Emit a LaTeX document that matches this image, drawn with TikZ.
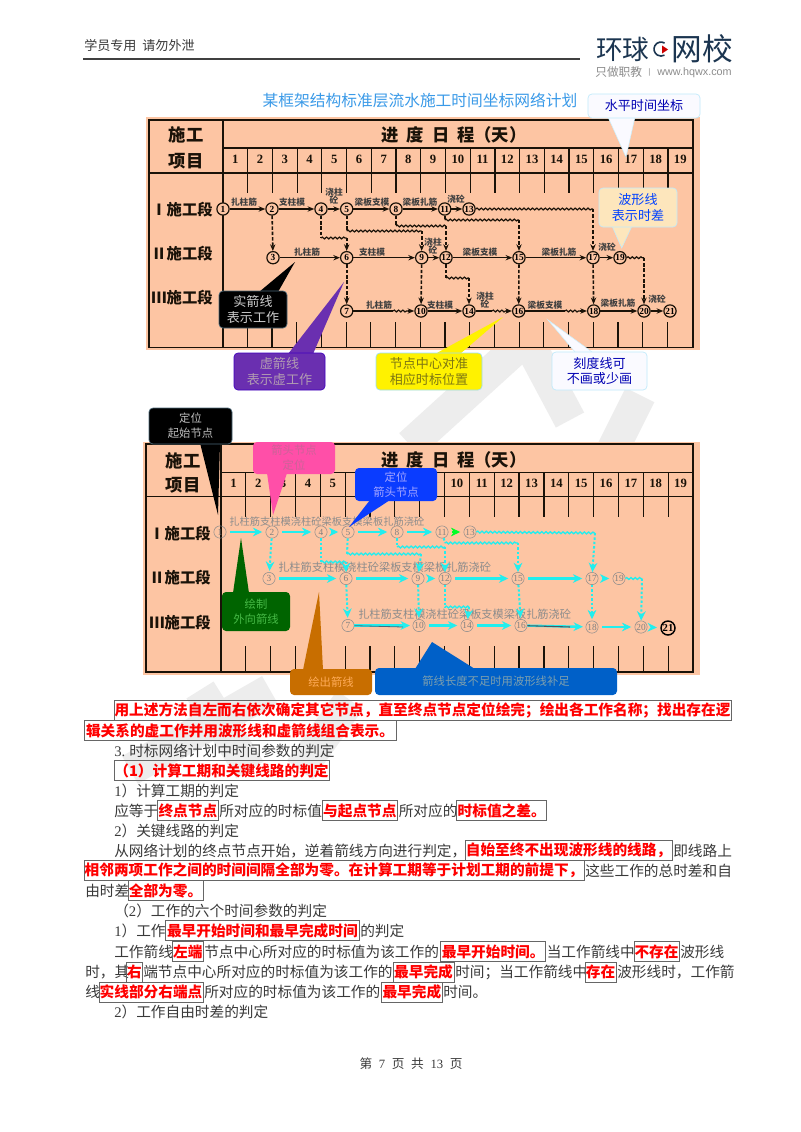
\documentclass[tikz,border=0pt]{standalone}
\usepackage{fontspec}
\setmainfont{Noto Sans CJK SC}
\newfontfamily\numf{Liberation Serif}
\newfontfamily\latf{Liberation Sans}
\usetikzlibrary{arrows.meta,decorations.pathmorphing}
\definecolor{peach}{HTML}{FDC5A3}
\definecolor{frameblk}{HTML}{1A1208}
\definecolor{cyanl}{HTML}{22EEEE}
\definecolor{bodyc}{HTML}{3A3A3A}
\definecolor{navy}{HTML}{1B3550}
\definecolor{titleb}{HTML}{3A9AE8}
\definecolor{purp}{HTML}{6A2FB0}
\definecolor{pinkc}{HTML}{FF4FA8}
\definecolor{bluec}{HTML}{0A3CFF}
\definecolor{greenc}{HTML}{006400}
\definecolor{orangec}{HTML}{C86E00}
\definecolor{longb}{HTML}{0060C8}
\definecolor{softy}{HTML}{FDE6BC}
\newcommand{\fs}[1]{\fontsize{#1}{#1}\selectfont}
\tikzset{
  bt/.style={inner sep=0pt,anchor=west,text=bodyc,font=\fs{11}},
  redbox/.style={inner sep=0pt,draw=black!60,line width=.6pt,text=red,font=\fs{11}\bfseries,minimum height=15pt},
  hd/.style={inner sep=0pt,font=\fs{13}\bfseries,text=frameblk},
  rowl/.style={inner sep=0pt,anchor=east,font=\fs{11.5}\bfseries,text=frameblk},
  coln/.style={inner sep=0pt,font=\numf\fs{9.5}\bfseries,text=frameblk},
  tl/.style={inner sep=0pt,font=\fs{6.5}\bfseries,text=black!75,align=center},
  na/.style={circle,draw=frameblk,line width=.9pt,fill=peach,inner sep=0pt,minimum size=9.2pt,font=\numf\fs{7}\bfseries},
  nb/.style={circle,draw=black!45,line width=.4pt,inner sep=0pt,minimum size=9.2pt,font=\numf\fs{7},text=black!50},
  frameln/.style={draw=frameblk,line width=1.2pt},
  thinln/.style={draw=frameblk,line width=.9pt},
  solidedge/.style={draw=frameblk,line width=1.1pt,-{Stealth[length=5pt,width=4pt]}},
  plainedge/.style={draw=frameblk,line width=1.1pt},
  dashedge/.style={draw=frameblk,line width=1.2pt,dash pattern=on 2.6pt off 1.4pt},
  dasharrow/.style={dashedge,-{Stealth[length=5pt,width=4pt]}},
  waveedge/.style={draw=frameblk,line width=.9pt,decorate,decoration={snake,amplitude=.7pt,segment length=3.2pt}},
  csolid/.style={draw=cyanl,line width=1.8pt,-{Stealth[length=7pt,width=6.5pt]}},
  cdash/.style={draw=cyanl,line width=1.5pt,dash pattern=on 1.8pt off 1.5pt},
  cdasharrow/.style={cdash,-{Stealth[length=7pt,width=6.5pt]}},
  cwave/.style={draw=cyanl,line width=1pt,decorate,decoration={snake,amplitude=.7pt,segment length=3.2pt}},
  cbox/.style={rounded corners=3pt,inner sep=0pt,align=center,font=\fontsize{9.8}{11.5}\selectfont,line width=.5pt},
  smalltxt/.style={font=\fontsize{8.5}{11.2}\selectfont},
  wm/.style={draw=black!7,line width=24pt},
}
\newcommand{\rb}[5]{\pgfmathsetmacro{\rbw}{(#3-#2)*0.75}\pgfmathsetmacro{\rbc}{(#2+#3)/2}\node[redbox,minimum width=\rbw pt] (#1) at (\rbc,#4) {#5};}
\newcommand{\boxat}[7]{\pgfmathsetmacro{\rbw}{(#3-#2)*0.75}\pgfmathsetmacro{\rbh}{(#5-#4)*0.75}\pgfmathsetmacro{\rbc}{(#2+#3)/2}\pgfmathsetmacro{\rbd}{(#4+#5)/2}\node[cbox,minimum width=\rbw pt,minimum height=\rbh pt,#6] (#1) at (\rbc,\rbd) {#7};}
\begin{document}
\begin{tikzpicture}[x=0.75pt,y=-0.75pt]
\useasboundingbox (0,0) rectangle (800,1132);
\fill[white] (0,0) rectangle (800,1132);
% watermark
\draw[wm] (520,345) -- (410,445);
\draw[wm] (530,345) -- (570,420);
\draw[wm] (640,395) -- (610,455);
\draw[wm] (270,690) -- (130,770);
\draw[wm] (200,690) -- (250,770);
\draw[wm] (350,700) -- (300,770);
% header
\node[inner sep=0pt,anchor=west,font=\fs{9.8},text=bodyc] (hdr) at (84,46) {学员专用\ \ 请勿外泄};
\coordinate (hl) at (83,59); \coordinate (hr) at (580,59);
\draw[black!75,line width=.8pt] (hl) -- (hr);
\node[inner sep=0pt,anchor=west,font=\fs{20},text=navy] (lg1) at (596,49) {环球};
\coordinate (lc) at (664.5,43);
\draw[navy,line width=1.2pt,x=1pt,y=1pt] (lc) arc (60:300:5.25);
\fill[red!80!black] (662,45.5) -- (668,49.5) -- (662,53.5) -- cycle;
\node[inner sep=0pt,anchor=east,font=\fs{23},text=navy] (lg2) at (733,49) {网校};
\node[inner sep=0pt,anchor=west,font=\fs{8.8},text=black!45] (lg3) at (595,72.5) {只做职教};
\node[inner sep=0pt,anchor=west,font=\latf\fs{6},text=black!45] (lg4) at (648,72.5) {|};
\node[inner sep=0pt,anchor=east,font=\latf\fs{8.1},text=black!45] (lg5) at (732,72.5) {www.hqwx.com};
% title
\node[inner sep=0pt,font=\fs{11.8},text=titleb] (title) at (420,100) {某框架结构标准层流水施工时间坐标网络计划};

%%%%%%%% chart 1
\fill[peach] (146,117) rectangle (700,350);
\draw[frameln] (149,120) rectangle (693,347.5);
\draw[thinln] (223,120) -- (223,347.5);
\draw[thinln] (223,148) -- (693,148);
\draw[thinln] (149,173) -- (693,173);
\foreach \i in {1,...,18}{
  \pgfmathsetmacro{\xx}{223+24.72*\i}
  \draw[thinln] (\xx,148) -- (\xx,193);
  \pgfmathsetmacro{\xy}{222.5+24.72*\i}
  \draw[thinln] (\xy,322) -- (\xy,347);
}
\foreach \i in {1,...,19}{
  \pgfmathsetmacro{\xx}{223+24.72*(\i-.5)}
  \node[coln] (ca\i) at (\xx,159) {\i};
}
\node[hd] (a-sg) at (186,135) {施工};
\node[hd] (a-xm) at (186,161) {项目};
\node[hd] (a-jd) at (454,135) {进\hspace{6pt}度\hspace{6pt}日\hspace{6pt}程（天）};
\node[rowl] (a-r1) at (213,210) {Ⅰ施工段};
\node[rowl] (a-r2) at (213,254) {Ⅱ施工段};
\node[rowl] (a-r3) at (213,298) {Ⅲ施工段};
% nodes
\node[na] (a1) at (223,209) {1};
\node[na] (a2) at (272,209) {2};
\node[na] (a4) at (321,209) {4};
\node[na] (a5) at (346.7,209) {5};
\node[na] (a8) at (396,209) {8};
\node[na] (a11) at (444.7,209) {11};
\node[na] (a13) at (469,209) {13};
\node[na] (a3) at (273,257.7) {3};
\node[na] (a6) at (346.7,257.7) {6};
\node[na] (a9) at (421.7,257.7) {9};
\node[na] (a12) at (446,257.7) {12};
\node[na] (a15) at (519,257.7) {15};
\node[na] (a17) at (593,257.7) {17};
\node[na] (a19) at (620,257.7) {19};
\node[na] (a7) at (346.7,311) {7};
\node[na] (a10) at (421,311) {10};
\node[na] (a14) at (469,311) {14};
\node[na] (a16) at (518.7,311) {16};
\node[na] (a18) at (593.7,311) {18};
\node[na] (a20) at (644,311) {20};
\node[na] (a21) at (670,311) {21};
% solid edges
\foreach \p/\q in {a1/a2,a2/a4,a4/a5,a5/a8,a8/a11,a11/a13,a3/a6,a6/a9,a9/a12,a12/a15,a15/a17,a17/a19,a10/a14,a18/a20,a20/a21}
  \draw[solidedge] (\p) -- (\q);
% partly wavy
\coordinate (p1) at (393,311); \coordinate (p2) at (408,311);
\draw[plainedge] (a7) -- (p1); \draw[waveedge] (p1) -- (p2); \draw[solidedge] (p2) -- (a10);
\coordinate (p3) at (492,311); \coordinate (p4) at (506,311);
\draw[plainedge] (a14) -- (p3); \draw[waveedge] (p3) -- (p4); \draw[solidedge] (p4) -- (a16);
\coordinate (p5) at (565,311); \coordinate (p6) at (580,311);
\draw[plainedge] (a16) -- (p5); \draw[waveedge] (p5) -- (p6); \draw[solidedge] (p6) -- (a18);
% dashed
\foreach \p/\q in {a2/a3,a6/a7,a9/a10,a15/a16,a17/a18}
  \draw[dasharrow] (\p) -- (\q);
% dashed + wave
\coordinate (w1a) at (321,238); \coordinate (w1b) at (346.7,238);
\draw[dashedge] (a4) -- (w1a); \draw[waveedge] (w1a) -- (w1b); \draw[dasharrow] (w1b) -- (a6);
\coordinate (w2a) at (346.7,231); \coordinate (w2b) at (421.7,231);
\draw[dashedge] (a5) -- (w2a); \draw[waveedge] (w2a) -- (w2b); \draw[dasharrow] (w2b) -- (a9);
\coordinate (w3a) at (396,226); \coordinate (w3b) at (446,226);
\draw[dashedge] (a8) -- (w3a); \draw[waveedge] (w3a) -- (w3b); \draw[dasharrow] (w3b) -- (a12);
\coordinate (w4a) at (444.7,220); \coordinate (w4b) at (519,220);
\draw[dashedge] (a11) -- (w4a); \draw[waveedge] (w4a) -- (w4b); \draw[dasharrow] (w4b) -- (a15);
\coordinate (w5b) at (593,209);
\draw[waveedge] (a13) -- (w5b); \draw[dasharrow] (w5b) -- (a17);
\coordinate (w6b) at (644,257.7);
\draw[waveedge] (a19) -- (w6b); \draw[dasharrow] (w6b) -- (a20);
\coordinate (w7a) at (446,278); \coordinate (w7b) at (469,278);
\draw[dashedge] (a12) -- (w7a); \draw[waveedge] (w7a) -- (w7b); \draw[dasharrow] (w7b) -- (a14);
% edge labels
\node[tl] (l1) at (244,202) {扎柱筋};
\node[tl] (l2) at (292,202) {支柱模};
\node[tl] (l3) at (334,196) {浇柱\\砼};
\node[tl] (l4) at (372,202) {梁板支模};
\node[tl] (l5) at (420,202) {梁板扎筋};
\node[tl] (l6) at (456,199) {浇砼};
\node[tl] (l7) at (307,252) {扎柱筋};
\node[tl] (l8) at (372,252) {支柱模};
\node[tl] (l9) at (433,246) {浇柱\\砼};
\node[tl] (l10) at (480,252) {梁板支模};
\node[tl] (l11) at (559,252) {梁板扎筋};
\node[tl] (l12) at (607,247) {浇砼};
\node[tl] (l13) at (379,305) {扎柱筋};
\node[tl] (l14) at (440,305) {支柱模};
\node[tl] (l15) at (485,300) {浇柱\\砼};
\node[tl] (l16) at (545,305) {梁板支模};
\node[tl] (l17) at (618,303) {梁板扎筋};
\node[tl] (l18) at (657,299) {浇砼};
% callouts chart 1
\filldraw[fill=blue!2,draw=cyan!20] (608,117) -- (626,157) -- (635,117);
\boxat{c1}{588}{700}{94}{118}{fill=blue!2,draw=cyan!25,text=blue!70!black}{水平时间坐标}
\filldraw[fill=softy,draw=cyan!25] (612,226) -- (621.7,248) -- (632,226);
\boxat{c2}{599}{677}{188}{227}{fill=softy,draw=cyan!25,text=blue!75!cyan}{波形线\\表示时差}
\fill[black] (259,292) -- (295,262) -- (278,292) -- cycle;
\boxat{c3}{219}{287}{291}{328}{fill=black,draw=cyan!40!black,text=black!20}{实箭线\\表示工作}
\fill[purp] (288,354) -- (344,282) -- (313,354) -- cycle;
\boxat{c4}{234}{325}{353}{390}{fill=purp,draw=blue!50!violet,text=violet!30!gray!60!white}{虚箭线\\表示虚工作}
\fill[yellow] (435,354) -- (503,317) -- (460,354) -- cycle;
\boxat{c5}{376}{482}{353}{390}{fill=yellow,draw=cyan!40,text=olive!85!black}{节点中心对准\\相应时标位置}
\filldraw[fill=blue!2,draw=cyan!20] (575,352) -- (548,320) -- (592,352);
\boxat{c6}{552}{647}{352}{390}{fill=blue!2,draw=cyan!25,text=blue!70!black}{刻度线可\\不画或少画}

%%%%%%%% chart 2
\fill[peach] (143,442) rectangle (700,675);
\draw[frameln] (146,444) rectangle (693,672);
\draw[thinln] (221,444) -- (221,672);
\draw[thinln] (221,472.7) -- (693,472.7);
\draw[thinln] (146,496.7) -- (693,496.7);
\foreach \i in {1,...,18}{
  \pgfmathsetmacro{\xx}{221+24.84*\i}
  \draw[thinln] (\xx,472.7) -- (\xx,516.7);
  \draw[thinln] (\xx,646) -- (\xx,672);
}
\foreach \i in {1,2,3,4,5,10,11,12,13,14,15,16,17,18,19}{
  \pgfmathsetmacro{\xx}{221+24.84*(\i-.5)}
  \node[coln] (cb\i) at (\xx,483) {\i};
}
\node[hd] (b-sg) at (183,460.5) {施工};
\node[hd] (b-xm) at (183,485) {项目};
\node[hd] (b-jd) at (454,460) {进\hspace{6pt}度\hspace{6pt}日\hspace{6pt}程（天）};
\node[rowl] (b-r1) at (211,534) {Ⅰ施工段};
\node[rowl] (b-r2) at (211,578) {Ⅱ施工段};
\node[rowl] (b-r3) at (211,623) {Ⅲ施工段};
% labels
\node[inner sep=0pt,anchor=west,font=\fs{7.7},text=black!45] (g1) at (229,522) {扎柱筋支柱模浇柱砼梁板支模梁板扎筋浇砼};
\node[inner sep=0pt,anchor=west,font=\fs{8.4},text=black!45] (g2) at (278,567) {扎柱筋支柱模浇柱砼梁板支模梁板扎筋浇砼};
\node[inner sep=0pt,anchor=west,font=\fs{8.4},text=black!45] (g3) at (358,614) {扎柱筋支柱模浇柱砼梁板支模梁板扎筋浇砼};
% nodes
\node[nb] (b1) at (220,532) {1};
\node[nb] (b2) at (272,532) {2};
\node[nb] (b4) at (321,532) {4};
\node[nb] (b5) at (348,532) {5};
\node[nb] (b8) at (397,532) {8};
\node[nb] (b11) at (442,532) {11};
\node[nb] (b13) at (470,532) {13};
\node[nb] (b3) at (269,578.5) {3};
\node[nb] (b6) at (346,578.5) {6};
\node[nb] (b9) at (418,578.5) {9};
\node[nb] (b12) at (445,578.5) {12};
\node[nb] (b15) at (518,578.5) {15};
\node[nb] (b17) at (592,578.5) {17};
\node[nb] (b19) at (619,578.5) {19};
\node[nb] (b7) at (348,625.5) {7};
\node[nb] (b10) at (419,625.5) {10};
\node[nb] (b14) at (467,625.5) {14};
\node[nb] (b16) at (521,625.5) {16};
\node[nb] (b18) at (592,627) {18};
\node[nb] (b20) at (641,627) {20};
\node[circle,draw=black,line width=1.1pt,inner sep=0pt,minimum size=10.5pt,font=\numf\fs{8}\bfseries] (b21) at (668,628) {21};
% solid cyan
\foreach \p/\q in {b1/b2,b2/b4,b4/b5,b5/b8,b8/b11,b3/b6,b6/b9,b9/b12,b12/b15,b15/b17,b17/b19,b10/b14,b14/b16,b18/b20,b20/b21}
  \draw[csolid,shorten >=2.5pt,shorten <=3pt] (\p) -- (\q);
\draw[csolid,draw=green!85!cyan,shorten >=2.5pt,shorten <=3pt] (b11) -- (b13);
\coordinate (q1) at (403,627);
\draw[csolid,shorten >=2pt] (b7) -- (b10);
\draw[black!60!cyan,line width=.6pt] (b7) -- (q1);
\coordinate (q2) at (570,627);
\draw[csolid,shorten >=2pt] (b16) -- (b18);
\draw[black!70!cyan,line width=.8pt] (b16) -- (q2);
% dashed cyan
\foreach \p/\q in {b2/b3,b6/b7,b9/b10,b15/b16,b17/b18}
  \draw[cdasharrow,shorten >=1pt] (\p) -- (\q);
\coordinate (v1a) at (321,562); \coordinate (v1b) at (346,562);
\draw[cdash] (b4) -- (v1a); \draw[cwave] (v1a) -- (v1b); \draw[cdasharrow] (v1b) -- (b6);
\coordinate (v2a) at (347,554); \coordinate (v2b) at (421,554);
\draw[cdash] (b5) -- (v2a); \draw[cwave] (v2a) -- (v2b); \draw[cdasharrow] (v2b) -- (b9);
\coordinate (v3a) at (397,547); \coordinate (v3b) at (445,547);
\draw[cdash] (b8) -- (v3a); \draw[cwave] (v3a) -- (v3b); \draw[cdasharrow] (v3b) -- (b12);
\coordinate (v4a) at (445,543); \coordinate (v4b) at (518,543);
\draw[cdash] (b11) -- (v4a); \draw[cwave] (v4a) -- (v4b); \draw[cdasharrow] (v4b) -- (b15);
\coordinate (v5b) at (595,533);
\draw[cwave] (b13) -- (v5b); \draw[cdasharrow] (v5b) -- (b17);
\coordinate (v6b) at (642,578.5);
\draw[cwave] (b19) -- (v6b); \draw[cdasharrow] (v6b) -- (b20);
\coordinate (v7a) at (445,607); \coordinate (v7b) at (469,607);
\draw[cdash] (b12) -- (v7a); \draw[cwave] (v7a) -- (v7b); \draw[cdasharrow] (v7b) -- (b14);
% callouts chart 2
\fill[black] (200,443) -- (218,515) -- (220,443) -- cycle;
\boxat{d1}{149}{232}{408}{444}{fill=black,draw=cyan!40!black,text=black!25,smalltxt}{定位\\起始节点}
\fill[pinkc] (267,473) -- (273,515) -- (287,473) -- cycle;
\boxat{d2}{253}{335}{442}{474}{fill=pinkc,draw=none,text=pinkc!60!gray,smalltxt}{箭头节点\\定位}
\fill[bluec] (370,500) -- (349,527) -- (390,500) -- cycle;
\boxat{d3}{355}{437}{468}{501}{fill=bluec,draw=none,text=blue!35!white,smalltxt}{定位\\箭头节点}
\fill[greenc] (233,593) -- (241,538) -- (249,593) -- cycle;
\boxat{d4}{222}{290}{592}{631}{fill=greenc,draw=none,text=green!45!gray,smalltxt}{绘制\\外向箭线}
\fill[orangec] (303,670) -- (319,592) -- (323,670) -- cycle;
\boxat{d5}{290}{372}{669}{695}{fill=orangec,draw=none,text=orange!65!white,smalltxt}{绘出箭线}
\fill[longb] (415,669) -- (432,642) -- (475,669) -- cycle;
\boxat{d6}{375}{617}{668}{695}{fill=longb,draw=none,text=cyan!30!gray,smalltxt}{箭线长度不足时用波形线补足}

%%%%%%%% body text
\rb{r1}{114}{731}{710.7}{用上述方法自左而右依次确定其它节点，直至终点节点定位绘完；绘出各工作名称；找出存在逻}
\rb{r2}{84}{396}{730.8}{辑关系的虚工作并用波形线和虚箭线组合表示。}
\node[bt] (t3) at (114,751.3) {\makebox[11.25pt][l]{\numf 3.}时标网络计划中时间参数的判定};
\rb{r4}{114}{329}{770.7}{（1）计算工期和关键线路的判定}
\node[bt] (t5) at (114,790.7) {{\numf 1}）计算工期的判定};
\node[bt] (t6a) at (114,811) {应等于};
\rb{r6a}{157.7}{218}{810.7}{终点节点}
\node[bt] (t6b) at (219,811) {所对应的时标值};
\rb{r6b}{322}{397.7}{810.7}{与起点节点}
\node[bt] (t6c) at (398.5,811) {所对应的};
\rb{r6c}{456.7}{546.7}{810.7}{时标值之差。}
\node[bt] (t7) at (114,831) {{\numf 2}）关键线路的判定};
\node[bt] (t8a) at (114,851) {从网络计划的终点节点开始，逆着箭线方向进行判定，};
\rb{r8}{465}{672}{850.7}{自始至终不出现波形线的线路，}
\node[bt] (t8b) at (673,851) {即线路上};
\rb{r9}{84}{584}{870.7}{相邻两项工作之间的时间间隔全部为零。在计算工期等于计划工期的前提下，}
\node[bt] (t9) at (585,871) {这些工作的总时差和自};
\node[bt] (t10) at (85,891) {由时差};
\rb{r10}{128}{203}{890.8}{全部为零。}
\node[bt] (t11) at (114,911) {（{\numf 2}）工作的六个时间参数的判定};
\node[bt] (t12a) at (114,931) {{\numf 1}）工作};
\rb{r12}{165.7}{359}{930.7}{最早开始时间和最早完成时间}
\node[bt] (t12b) at (360,931) {的判定};
\node[bt] (t13a) at (114,951.5) {工作箭线};
\rb{r13a}{172.7}{203}{951.7}{左端}
\node[bt] (t13b) at (204,951.5) {节点中心所对应的时标值为该工作的};
\rb{r13b}{440.7}{545.7}{951.7}{最早开始时间。}
\node[bt] (t13c) at (546.5,951.5) {当工作箭线中};
\rb{r13c}{634}{679}{951.7}{不存在}
\node[bt] (t13d) at (680,951.5) {波形线};
\node[bt] (t14a) at (85,972) {时，其};
\rb{r14a}{126.7}{142}{972}{右}
\node[bt] (t14b) at (143,972) {端节点中心所对应的时标值为该工作的};
\rb{r14b}{393}{454}{972}{最早完成}
\node[bt] (t14c) at (455,972) {时间；当工作箭线中};
\rb{r14c}{585}{616}{972}{存在}
\node[bt] (t14d) at (617,972) {波形线时，工作箭};
\node[bt] (t15a) at (85,992) {线};
\rb{r15a}{99}{203}{992}{实线部分右端点}
\node[bt] (t15b) at (204,992) {所对应的时标值为该工作的};
\rb{r15b}{381.7}{442}{992}{最早完成}
\node[bt] (t15c) at (443,992) {时间。};
\node[bt] (t16) at (114,1012) {{\numf 2}）工作自由时差的判定};
% footer
\node[inner sep=0pt,font=\fs{9.5},text=bodyc] (foot) at (411,1064) {第\hspace{5pt}{\numf 7}\hspace{5pt}页\hspace{5pt}共\hspace{5pt}{\numf 13}\hspace{5pt}页};
\end{tikzpicture}
\end{document}
